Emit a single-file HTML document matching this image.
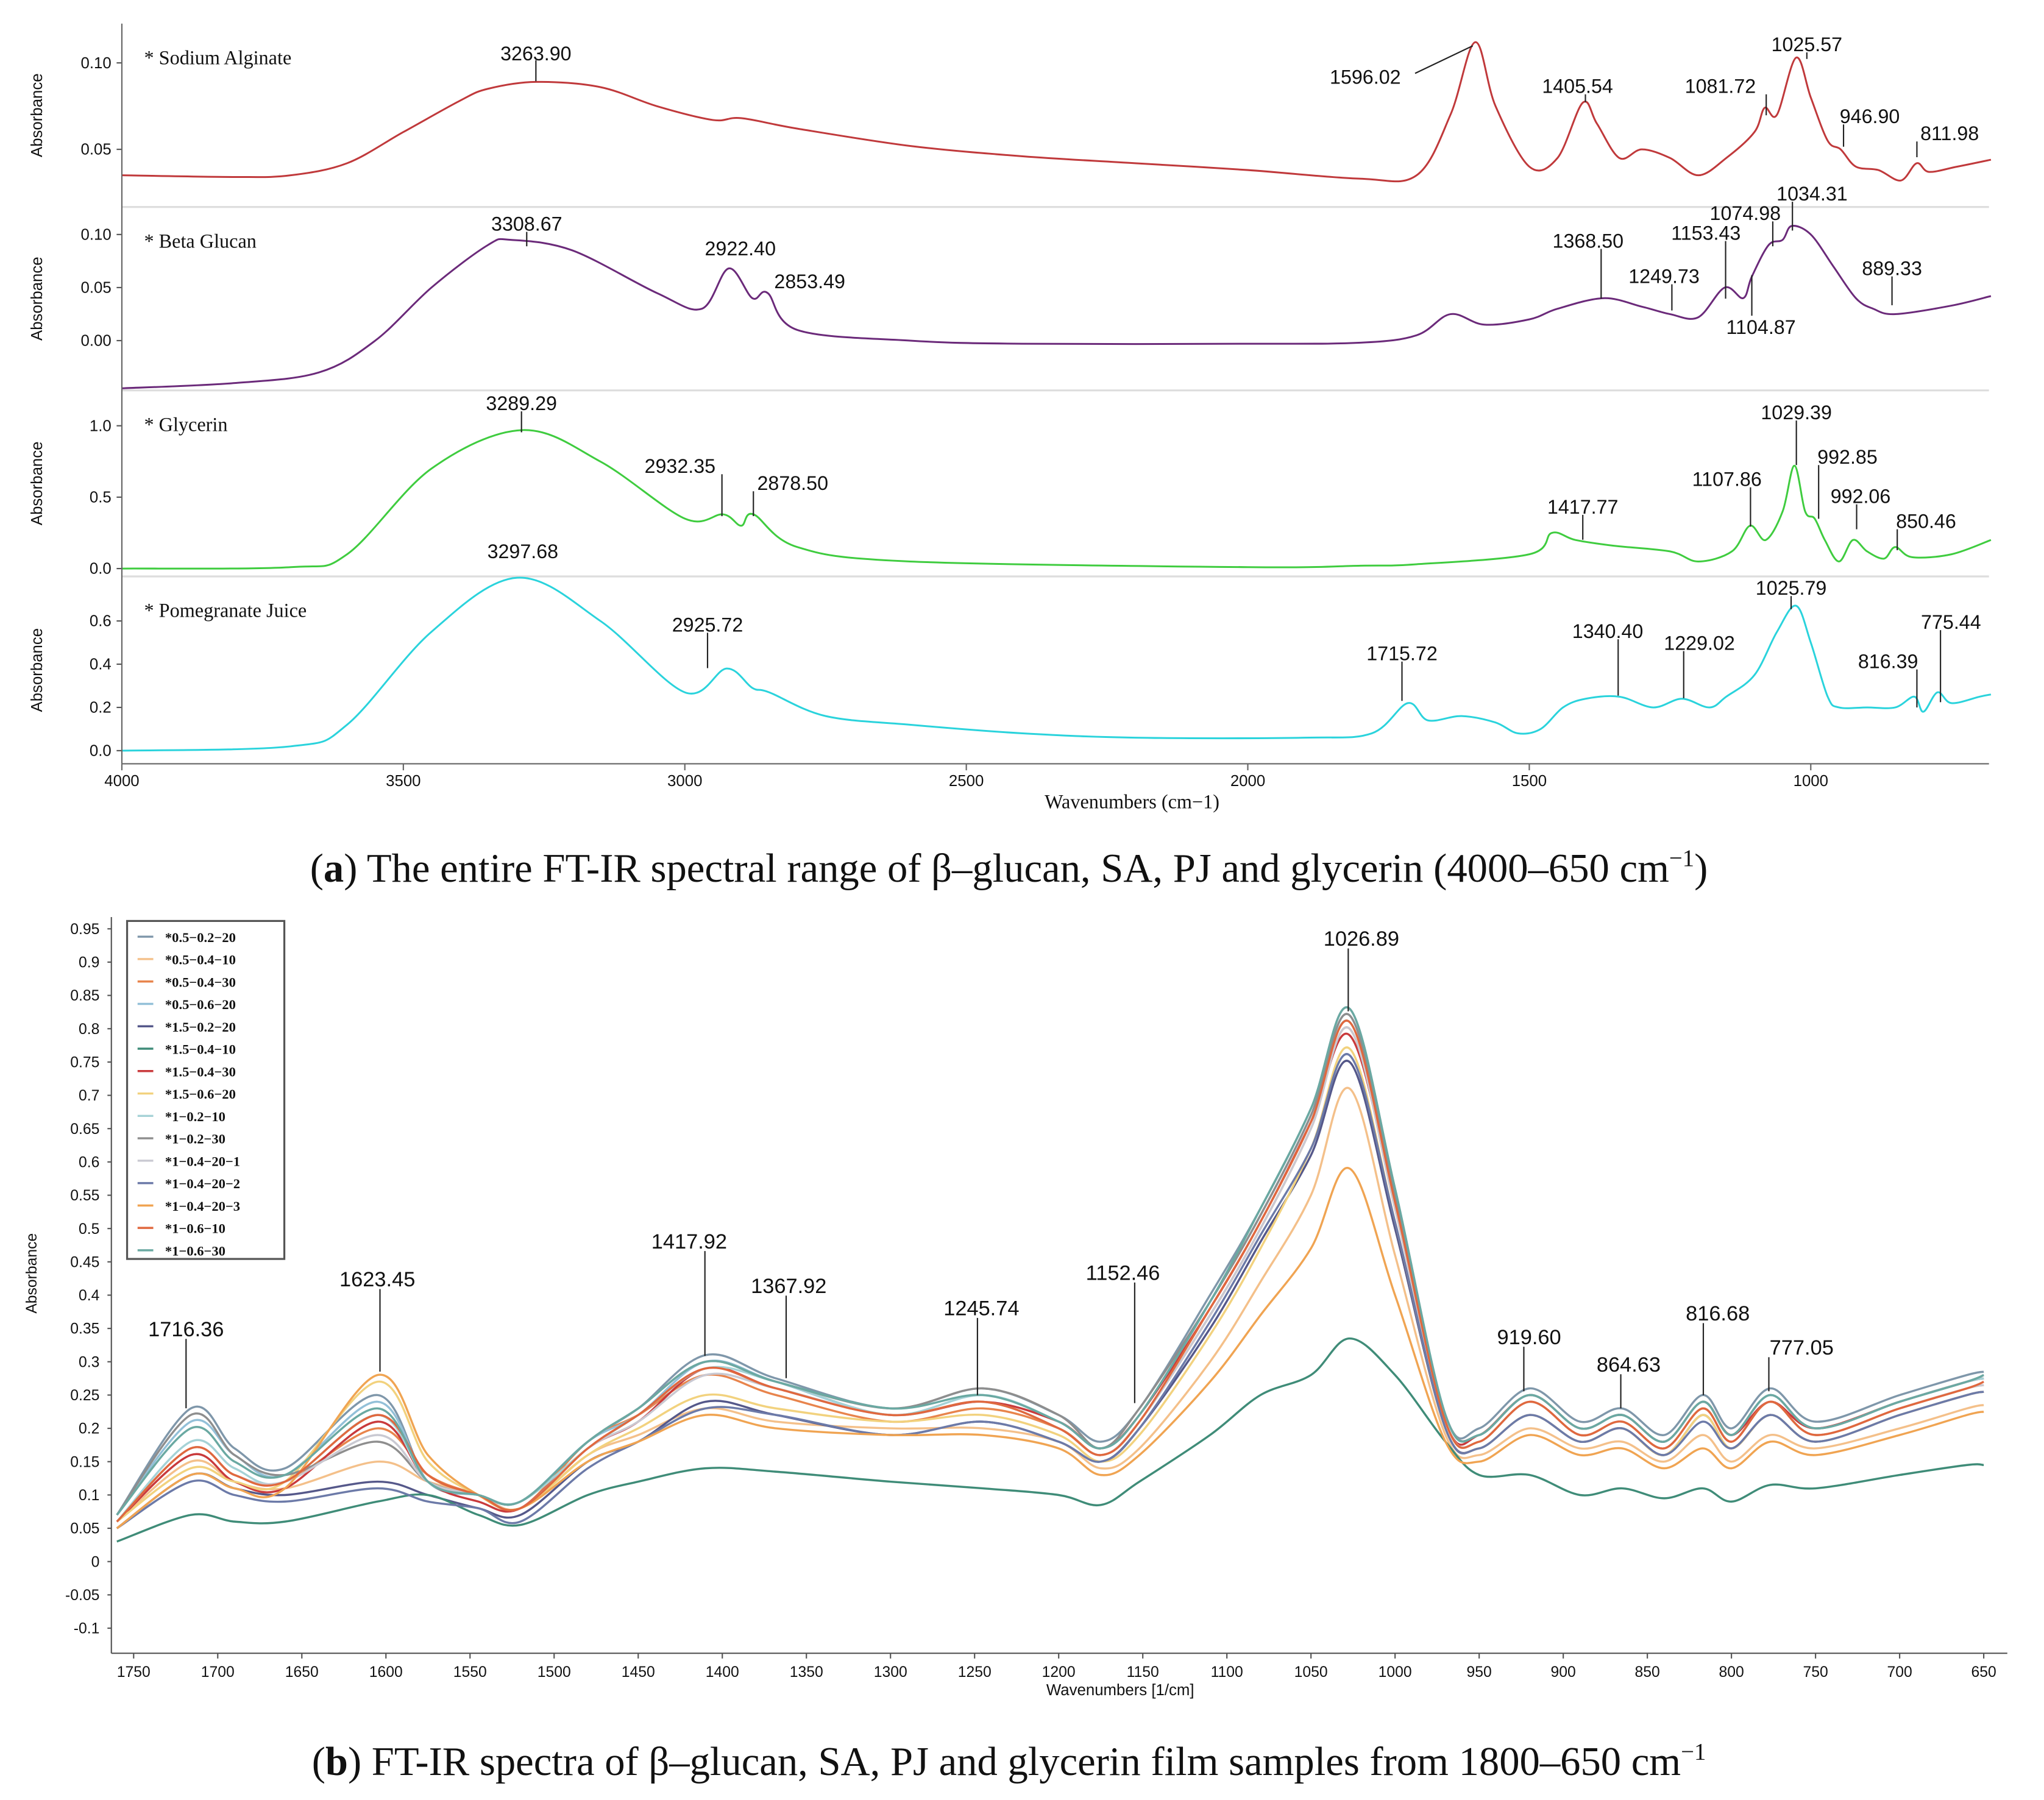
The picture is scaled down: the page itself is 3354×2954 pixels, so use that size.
<!DOCTYPE html>
<html><head><meta charset="utf-8"><style>
html,body{margin:0;padding:0;background:#fff;}
svg{display:block;}
</style></head><body>
<svg id="fig" width="3354" height="2954" viewBox="0 0 1560 1374" preserveAspectRatio="none" xmlns="http://www.w3.org/2000/svg"></svg>
<script>
// ---------- Panel (a) data ----------
const saWn=[4000,3800,3700,3600,3500,3400,3350,3264,3150,3050,2950,2900,2800,2600,2400,2200,2000,1800,1700,1640,1596,1560,1500,1450,1405,1380,1340,1300,1250,1200,1150,1100,1082,1060,1026,1000,970,947,920,880,840,812,790,740,680];
const saVal=[0.035,0.034,0.035,0.042,0.06,0.078,0.085,0.089,0.086,0.075,0.067,0.068,0.062,0.052,0.046,0.042,0.038,0.033,0.035,0.07,0.112,0.075,0.04,0.045,0.077,0.065,0.045,0.05,0.045,0.035,0.045,0.06,0.074,0.07,0.103,0.08,0.055,0.05,0.04,0.038,0.032,0.042,0.037,0.04,0.044];
const bgWn=[4000,3800,3650,3550,3450,3350,3309,3200,3050,2970,2922,2880,2853,2800,2600,2400,2000,1800,1700,1640,1580,1500,1450,1368,1300,1250,1200,1153,1120,1105,1075,1050,1034,1000,960,920,889,850,750,680];
const bgVal=[-0.045,-0.04,-0.03,0.0,0.05,0.09,0.095,0.085,0.045,0.03,0.068,0.04,0.045,0.01,0.0,-0.003,-0.003,-0.002,0.005,0.025,0.015,0.02,0.03,0.04,0.032,0.025,0.022,0.05,0.04,0.06,0.09,0.095,0.108,0.1,0.07,0.04,0.03,0.025,0.033,0.042];
const glWn=[4000,3700,3600,3450,3289,3150,3000,2932,2900,2878,2800,2600,2000,1800,1700,1500,1460,1418,1350,1250,1200,1140,1108,1080,1050,1029,1010,993,975,950,925,900,870,850,820,750,680];
const glVal=[0.0,0.01,0.1,0.7,0.97,0.75,0.35,0.38,0.3,0.38,0.15,0.05,0.01,0.02,0.03,0.1,0.25,0.2,0.16,0.12,0.05,0.12,0.3,0.2,0.4,0.72,0.4,0.35,0.2,0.05,0.2,0.12,0.07,0.15,0.08,0.1,0.2];
const pjWn=[4000,3700,3600,3450,3298,3150,3000,2926,2880,2850,2750,2600,2400,2200,1900,1780,1716,1680,1620,1560,1520,1480,1440,1400,1340,1280,1229,1180,1150,1100,1060,1026,1000,970,950,900,850,816,800,775,750,700,680];
const pjVal=[0.0,0.02,0.12,0.55,0.8,0.6,0.27,0.38,0.29,0.27,0.16,0.12,0.08,0.06,0.06,0.08,0.22,0.14,0.16,0.13,0.08,0.1,0.2,0.24,0.25,0.2,0.24,0.2,0.25,0.35,0.55,0.67,0.5,0.25,0.2,0.2,0.2,0.25,0.18,0.27,0.22,0.25,0.26];
const aTicks=[4000,3500,3000,2500,2000,1500,1000];

// ---------- Panel (b) data ----------
const bWn=[1760,1716,1690,1660,1605,1575,1545,1520,1480,1450,1410,1368,1300,1245,1200,1175,1152,1110,1080,1050,1027,1000,970,950,920,890,865,840,817,800,777,750,700,660,650];
const bNames=["*0.5\u22120.2\u221220","*0.5\u22120.4\u221210","*0.5\u22120.4\u221230","*0.5\u22120.6\u221220","*1.5\u22120.2\u221220","*1.5\u22120.4\u221210","*1.5\u22120.4\u221230","*1.5\u22120.6\u221220","*1\u22120.2\u221210","*1\u22120.2\u221230","*1\u22120.4\u221220\u22121","*1\u22120.4\u221220\u22122","*1\u22120.4\u221220\u22123","*1\u22120.6\u221210","*1\u22120.6\u221230"];
const bColors=["#7f97aa","#f4c08a","#e8844c","#93c0d8","#55588a","#3f8c78","#c93a3c","#f2d27e","#a5d2d6","#8e8e8e","#c9c9d2","#6c7aa8","#f0a452","#e0683e","#6aa9a2"];
const s1=[0.07,0.23,0.17,0.14,0.25,0.12,0.10,0.09,0.18,0.23,0.31,0.275,0.23,0.26,0.22,0.18,0.23,0.40,0.53,0.68,0.83,0.56,0.22,0.20,0.26,0.21,0.23,0.19,0.25,0.20,0.26,0.21,0.25,0.28,0.285];
const s2=[0.06,0.15,0.12,0.11,0.15,0.12,0.10,0.08,0.16,0.19,0.23,0.21,0.20,0.20,0.18,0.14,0.17,0.30,0.42,0.55,0.71,0.46,0.19,0.16,0.20,0.17,0.18,0.15,0.19,0.15,0.19,0.17,0.20,0.23,0.235];
const s3=[0.06,0.17,0.13,0.12,0.20,0.13,0.10,0.08,0.18,0.22,0.28,0.25,0.21,0.23,0.20,0.16,0.21,0.37,0.50,0.65,0.80,0.53,0.21,0.18,0.24,0.19,0.21,0.17,0.23,0.18,0.24,0.19,0.23,0.26,0.265];
const s4=[0.07,0.21,0.16,0.13,0.24,0.12,0.10,0.09,0.18,0.22,0.30,0.27,0.22,0.25,0.21,0.17,0.22,0.39,0.52,0.67,0.82,0.55,0.22,0.19,0.25,0.20,0.22,0.18,0.24,0.19,0.25,0.20,0.24,0.27,0.275];
const s5=[0.05,0.13,0.11,0.10,0.12,0.10,0.08,0.07,0.15,0.18,0.24,0.22,0.19,0.21,0.18,0.15,0.20,0.35,0.48,0.61,0.75,0.50,0.20,0.17,0.22,0.18,0.20,0.16,0.22,0.17,0.22,0.18,0.22,0.25,0.255];
const s6=[0.03,0.07,0.06,0.06,0.09,0.10,0.07,0.055,0.10,0.12,0.14,0.135,0.12,0.11,0.10,0.085,0.12,0.19,0.25,0.28,0.335,0.28,0.18,0.13,0.13,0.10,0.11,0.095,0.11,0.09,0.115,0.11,0.13,0.145,0.145];
const s7=[0.06,0.16,0.12,0.11,0.21,0.12,0.09,0.08,0.17,0.21,0.29,0.26,0.22,0.24,0.21,0.17,0.22,0.38,0.51,0.66,0.79,0.54,0.21,0.19,0.25,0.20,0.22,0.18,0.24,0.19,0.24,0.20,0.24,0.27,0.275];
const s8=[0.06,0.14,0.12,0.12,0.27,0.15,0.10,0.08,0.16,0.20,0.25,0.23,0.21,0.22,0.19,0.15,0.19,0.34,0.47,0.62,0.77,0.51,0.20,0.17,0.22,0.18,0.20,0.16,0.22,0.17,0.22,0.18,0.22,0.25,0.255];
const s9=[0.06,0.18,0.14,0.12,0.22,0.12,0.10,0.09,0.17,0.22,0.29,0.27,0.22,0.25,0.21,0.17,0.22,0.39,0.52,0.67,0.81,0.55,0.22,0.19,0.25,0.20,0.22,0.18,0.24,0.19,0.25,0.20,0.24,0.27,0.275];
const s10=[0.07,0.22,0.16,0.13,0.18,0.12,0.10,0.09,0.18,0.23,0.30,0.27,0.23,0.26,0.22,0.17,0.23,0.39,0.52,0.67,0.82,0.55,0.22,0.19,0.25,0.20,0.22,0.18,0.24,0.19,0.25,0.20,0.24,0.27,0.28];
const s11=[0.06,0.17,0.13,0.12,0.19,0.12,0.10,0.08,0.17,0.21,0.28,0.26,0.22,0.24,0.20,0.16,0.21,0.37,0.50,0.65,0.80,0.53,0.21,0.18,0.24,0.19,0.21,0.17,0.23,0.18,0.24,0.19,0.23,0.26,0.265];
const s12=[0.05,0.12,0.10,0.09,0.11,0.09,0.08,0.06,0.14,0.18,0.23,0.22,0.19,0.21,0.18,0.15,0.20,0.36,0.49,0.62,0.76,0.51,0.20,0.17,0.22,0.18,0.20,0.16,0.21,0.17,0.22,0.18,0.22,0.25,0.255];
const s13=[0.05,0.13,0.11,0.11,0.28,0.16,0.10,0.08,0.15,0.18,0.22,0.20,0.19,0.19,0.17,0.13,0.16,0.27,0.37,0.47,0.59,0.40,0.18,0.15,0.19,0.16,0.17,0.14,0.17,0.14,0.18,0.16,0.19,0.22,0.225];
const s14=[0.06,0.17,0.13,0.12,0.22,0.13,0.10,0.08,0.17,0.22,0.29,0.26,0.22,0.24,0.20,0.16,0.21,0.38,0.51,0.66,0.81,0.54,0.21,0.18,0.24,0.19,0.21,0.17,0.23,0.18,0.24,0.19,0.23,0.26,0.27];
const s15=[0.07,0.20,0.15,0.13,0.23,0.12,0.10,0.09,0.18,0.23,0.30,0.27,0.23,0.25,0.21,0.17,0.22,0.39,0.53,0.68,0.83,0.56,0.22,0.19,0.25,0.20,0.22,0.18,0.24,0.19,0.25,0.20,0.24,0.27,0.28];
const bSeries=[s1,s2,s3,s4,s5,s6,s7,s8,s9,s10,s11,s12,s13,s14,s15];
const bXTicks=[1750,1700,1650,1600,1550,1500,1450,1400,1350,1300,1250,1200,1150,1100,1050,1000,950,900,850,800,750,700,650];
const bYTicks=[0.95,0.9,0.85,0.8,0.75,0.7,0.65,0.6,0.55,0.5,0.45,0.4,0.35,0.3,0.25,0.2,0.15,0.1,0.05,0,-0.05,-0.1];

const svg=document.getElementById('fig');
const NS='http://www.w3.org/2000/svg';
function mk(tag,attrs,parent){const e=document.createElementNS(NS,tag);for(const k in attrs)e.setAttribute(k,attrs[k]);(parent||svg).appendChild(e);return e;}
function txt(s,x,y,size,fam,anchor,parent){const t=mk('text',{x:x,y:y,'font-size':size,'font-family':fam,'text-anchor':anchor||'start',fill:'#111'},parent);t.textContent=s;return t;}
const SANS='"Liberation Sans", "DejaVu Sans", sans-serif', SERIF='"Liberation Serif", serif';
function smooth(pts){let d='M'+pts[0][0].toFixed(1)+','+pts[0][1].toFixed(1);for(let i=0;i<pts.length-1;i++){const p0=pts[Math.max(0,i-1)],p1=pts[i],p2=pts[i+1],p3=pts[Math.min(pts.length-1,i+2)];const c1=[p1[0]+(p2[0]-p0[0])/6,p1[1]+(p2[1]-p0[1])/6],c2=[p2[0]-(p3[0]-p1[0])/6,p2[1]-(p3[1]-p1[1])/6];d+='C'+c1[0].toFixed(1)+','+c1[1].toFixed(1)+' '+c2[0].toFixed(1)+','+c2[1].toFixed(1)+' '+p2[0].toFixed(1)+','+p2[1].toFixed(1);}return d;}

// ===== Panel a =====
const ga=mk('g',{});


const axL=93, axR=1518;
const xa=w=>axL+(4000-w)*(1382-93)/3000;
function lin(v0,y0,v1,y1){return v=>y0+(v-v0)*(y1-y0)/(v1-v0);}
const subs=[
 {name:'sodium-alginate',title:'* Sodium Alginate',top:18,bot:158,y:lin(0.05,114,0.10,48),wn:saWn,val:saVal,col:'#c0393b',ticks:[[0.10,'0.10'],[0.05,'0.05']]},
 {name:'beta-glucan',title:'* Beta Glucan',top:158,bot:298,y:lin(0,260,0.10,179),wn:bgWn,val:bgVal,col:'#6b2a7a',ticks:[[0.10,'0.10'],[0.05,'0.05'],[0,'0.00']]},
 {name:'glycerin',title:'* Glycerin',top:298,bot:440,y:lin(0,434,1,325),wn:glWn,val:glVal,col:'#3fcc3f',ticks:[[1,'1.0'],[0.5,'0.5'],[0,'0.0']]},
 {name:'pomegranate-juice',title:'* Pomegranate Juice',top:440,bot:583,y:lin(0,573,0.6,474),wn:pjWn,val:pjVal,col:'#2ad3dc',ticks:[[0.6,'0.6'],[0.4,'0.4'],[0.2,'0.2'],[0,'0.0']]}
];
subs.forEach((s,i)=>{
  const g=mk('g',{},ga);
  
  
  if(i>0) mk('line',{x1:axL,x2:axR,y1:s.top,y2:s.top,stroke:'#ddd','stroke-width':1.5},g);
  s.ticks.forEach(t=>{const yy=s.y(t[0]);mk('line',{x1:axL-4,x2:axL,y1:yy,y2:yy,stroke:'#555'},g);const tl=txt(t[1],axL-8,yy+4,12,SANS,'end',g);});
  const yl=txt('Absorbance',0,0,12,SANS,'middle',g);yl.setAttribute('transform','translate(32,'+((s.top+s.bot)/2)+') rotate(-90)');
  
  
  const tt=txt(s.title,110,s.top+31,15,SERIF,'start',g);
  
  
  const pts=s.wn.map((w,k)=>[xa(w),s.y(s.val[k])]);
  const p=mk('path',{d:smooth(pts),fill:'none',stroke:s.col,'stroke-width':1.4},g);
  
  
});
mk('line',{x1:axL,x2:axL,y1:18,y2:583,stroke:'#666','stroke-width':1},ga);
mk('line',{x1:axL,x2:axR,y1:583,y2:583,stroke:'#666','stroke-width':1},ga);
aTicks.forEach(w=>{const x=xa(w);mk('line',{x1:x,x2:x,y1:583,y2:588,stroke:'#666'},ga);const t=txt(String(w),x,600,12,SANS,'middle',ga);});
const xat=txt('Wavenumbers (cm\u22121)',864,617,15,SERIF,'middle',ga);


const annA=[
 ['3263.90',409,46,46,62],['1405.54',1204,71,72,78],['1081.72',1313,71,72,88],['1025.57',1379,39,40,45],['946.90',1427,94,95,112],['811.98',1488,107,108,120],
 ['3308.67',402,176,177,188],['2922.40',565,195,0,0],['2853.49',618,220,0,0],['1368.50',1212,189,190,228],['1249.73',1270,216,217,237],['1153.43',1302,183,184,228],['1104.87',1344,255,241,210],['1074.98',1332,168,169,188],['1034.31',1383,153,154,176],['889.33',1444,210,211,233],
 ['3289.29',398,313,314,330],['2932.35',519,361,362,394],['2878.50',605,374,375,394],['1417.77',1208,392,393,412],['1107.86',1318,371,372,402],['1029.39',1371,320,321,355],['992.85',1410,354,355,396],['992.06',1420,384,385,404],['850.46',1470,403,404,420],
 ['3297.68',399,426,0,0],['2925.72',540,482,483,510],['1715.72',1070,504,505,535],['1340.40',1227,487,488,531],['1229.02',1297,496,497,533],['1025.79',1367,454,455,465],['816.39',1441,510,511,540],['775.44',1489,480,481,536]
];
const lineX={'1368.50':1222,'1249.73':1276,'1153.43':1317,'1104.87':1337,'1074.98':1353,'1034.31':1368,'992.85':1388,'992.06':1417,'1107.86':1336,'1029.39':1371,'2932.35':551,'2878.50':575,'850.46':1448,'1340.40':1235,'1229.02':1285,'816.39':1463,'775.44':1481,'946.90':1407,'811.98':1463,'1081.72':1348,'1405.54':1210};
annA.forEach(a=>{
  const t=txt(a[0],a[1],a[2],15,SANS,'middle',ga);
  
  
  if(a[3]){const lx=lineX[a[0]]||a[1];mk('line',{x1:lx,x2:lx,y1:a[3],y2:a[4],stroke:'#222','stroke-width':1},ga);}
});
const t1596=txt('1596.02',1042,64,15,SANS,'middle',ga);


mk('line',{x1:1080,y1:56,x2:1124,y2:35,stroke:'#222'},ga);

// caption a
const capA=mk('text',{x:770,y:673,'font-size':31,'font-family':SERIF,'text-anchor':'middle',fill:'#111'});


capA.innerHTML='(<tspan font-weight="bold">a</tspan>) The entire FT-IR spectral range of \u03b2\u2013glucan, SA, PJ and glycerin (4000\u2013650 cm<tspan font-size="18" dy="-12">\u22121</tspan><tspan dy="12">)</tspan>';

// ===== Panel b =====
const gb=mk('g',{});


const xb=w=>102+(1750-w)*(1514-102)/1100;
const yb=v=>1192-v*(1192-709)/0.95;
mk('line',{x1:85,x2:85,y1:700,y2:1262,stroke:'#555'},gb);
mk('line',{x1:85,x2:1532,y1:1262,y2:1262,stroke:'#555'},gb);
bYTicks.forEach(v=>{const y=yb(v);mk('line',{x1:82,x2:85,y1:y,y2:y,stroke:'#555'},gb);const t=txt(String(v),76,y+4,11.5,SANS,'end',gb);});
bXTicks.forEach(w=>{const x=xb(w);mk('line',{x1:x,x2:x,y1:1262,y2:1266,stroke:'#555'},gb);const t=txt(String(w),x,1280,11.5,SANS,'middle',gb);});
const ybt=txt('Absorbance',0,0,11.5,SANS,'middle',gb);ybt.setAttribute('transform','translate(28,972) rotate(-90)');


const xbt=txt('Wavenumbers [1/cm]',855,1294,12,SANS,'middle',gb);


bSeries.forEach((arr,i)=>{
  const pts=bWn.map((w,k)=>[xb(w),yb(arr[k])]);
  const p=mk('path',{d:smooth(pts),fill:'none',stroke:bColors[i],'stroke-width':1.6},gb);
  
  
});
const annB=[['1716.36',142,1020,1022,1075],['1623.45',288,982,984,1047],['1417.92',526,953,955,1035],['1367.92',602,987,989,1052],['1245.74',749,1004,1006,1065],['1152.46',857,977,979,1071],['1026.89',1039,722,724,772],['919.60',1167,1026,1028,1062],['864.63',1243,1047,1049,1075],['816.68',1311,1008,1010,1065],['777.05',1375,1034,1036,1062]];
const lineXB={'1623.45':290,'1417.92':538,'1367.92':600,'1245.74':746,'1152.46':866,'1026.89':1029,'919.60':1163,'864.63':1237,'816.68':1300,'777.05':1350};
annB.forEach(a=>{
  const t=txt(a[0],a[1],a[2],16,SANS,'middle',gb);
  
  
  const lx=lineXB[a[0]]||a[1];
  mk('line',{x1:lx,x2:lx,y1:a[3],y2:a[4],stroke:'#222'},gb);
});
// legend
const lg=mk('g',{},gb);


mk('rect',{x:97,y:703,width:120,height:258,fill:'#fff',stroke:'#555','stroke-width':1.5},lg);
bNames.forEach((n,i)=>{
  const y=715+i*17.1;
  const e=mk('g',{},lg);
  
  
  mk('line',{x1:105,x2:117,y1:y,y2:y,stroke:bColors[i],'stroke-width':1.6},e);
  const t=txt(n,126,y+4,10.5,SERIF,'start',e);t.setAttribute('font-weight','bold');
});
const capB=mk('text',{x:770,y:1355,'font-size':31,'font-family':SERIF,'text-anchor':'middle',fill:'#111'});


capB.innerHTML='(<tspan font-weight="bold">b</tspan>) FT-IR spectra of \u03b2\u2013glucan, SA, PJ and glycerin film samples from 1800\u2013650 cm<tspan font-size="18" dy="-12">\u22121</tspan>';
</script>
</body></html>
